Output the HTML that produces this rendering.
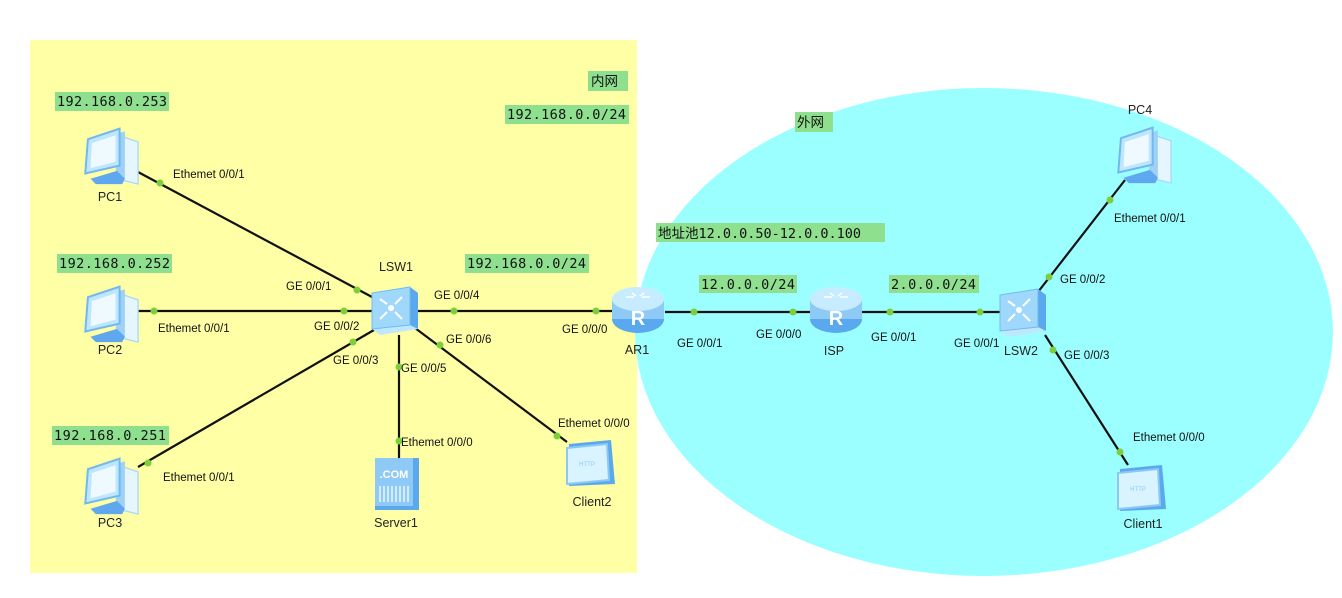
<!DOCTYPE html>
<html><head><meta charset="utf-8"><style>
html,body{margin:0;padding:0;background:#fff;width:1342px;height:598px;overflow:hidden}
.p{font-family:"Liberation Sans",sans-serif;font-size:11.5px;fill:#111}
.n{font-family:"Liberation Sans",sans-serif;font-size:12.5px;fill:#222}
</style></head><body>
<svg width="1342" height="598" xmlns="http://www.w3.org/2000/svg">
<defs>
<g id="pc">
 <path d="M26 6 L44 12 L44 44 L28 40 Z" fill="#e6f6ff" stroke="#a9d8f8"/>
 <path d="M28 6 L34 4 L34 40 L28 42 Z" fill="#9fd0f6"/>
 <path d="M6 10 L30 2 L30 30 L4 36 Z" fill="#bfe6ff" stroke="#6fb8f0" stroke-width="1.5"/>
 <path d="M9 13 L27 7 L27 27 L8 32 Z" fill="#eefaff"/>
 <path d="M8 40 L28 34 L34 40 L32 44 L12 44 Z" fill="#5fa8ef"/>
</g>
<g id="sw">
 <path d="M0 8 L38 2 L46 8 L46 44 L8 50 L0 44 Z" fill="#bfe8ff"/>
 <path d="M38 2 L46 8 L46 44 L38 40 Z" fill="#5aa8ee"/>
 <path d="M0 8 L38 2 L38 40 L0 44 Z" fill="#9fd8fb" stroke="#6fbcf3"/>
 <circle cx="19" cy="23" r="3" fill="#fff"/>
 <path d="M8 14 L15 19 M30 12 L23 19 M8 34 L15 27 M30 34 L23 27" stroke="#fff" stroke-width="2"/>
</g>
<g id="rt">
 <ellipse cx="26" cy="34" rx="26" ry="14" fill="#5aa8ee"/>
 <rect x="0" y="14" width="52" height="20" fill="#8fcaf6"/>
 <ellipse cx="26" cy="14" rx="26" ry="12" fill="#c8ecff"/>
 <text x="26" y="40" text-anchor="middle" font-size="20" font-weight="bold" fill="#fff" font-family="Liberation Sans">R</text>
 <path d="M14 12 h8 M30 12 h8 M20 8 l4 3 M32 8 l-4 3" stroke="#fff" stroke-width="1.5"/>
</g>
<g id="cl">
 <path d="M4 4 L46 0 L50 44 L4 46 Z" fill="#5aa8ee"/>
 <path d="M2 8 L42 4 L44 40 L2 44 Z" fill="#d9f3ff" stroke="#8cc8f5" stroke-width="2"/>
 <text x="22" y="26" text-anchor="middle" font-size="6" fill="#8cc8f5" font-family="Liberation Sans">HTTP</text>
</g>
</defs>
<rect x="30" y="40" width="607" height="533" fill="#ffffa6"/>
<ellipse cx="984" cy="332" rx="349" ry="244" fill="#9cffff"/>
<g stroke="#111" stroke-width="2.2" fill="none">
 <line x1="138" y1="172" x2="372" y2="297"/>
 <line x1="138" y1="311" x2="374" y2="311"/>
 <line x1="138" y1="467" x2="374" y2="330"/>
 <line x1="418" y1="311" x2="614" y2="311"/>
 <line x1="399" y1="335" x2="399" y2="460"/>
 <line x1="415" y1="328" x2="567" y2="442"/>
 <line x1="665" y1="312" x2="810" y2="312"/>
 <line x1="862" y1="312" x2="1002" y2="312"/>
 <line x1="1038" y1="292" x2="1125" y2="180"/>
 <line x1="1045" y1="335" x2="1128" y2="465"/>
</g>
<g fill="#7ccf3a">
 <circle cx="160" cy="183" r="3.5"/><circle cx="357" cy="290" r="3.5"/>
 <circle cx="154" cy="311" r="3.5"/><circle cx="344" cy="311" r="3.5"/>
 <circle cx="148" cy="463" r="3.5"/><circle cx="353" cy="342" r="3.5"/>
 <circle cx="454" cy="311" r="3.5"/><circle cx="596" cy="311" r="3.5"/>
 <circle cx="399" cy="367" r="3.5"/><circle cx="399" cy="441" r="3.5"/>
 <circle cx="440" cy="345" r="3.5"/><circle cx="557" cy="436" r="3.5"/>
 <circle cx="694" cy="312" r="3.5"/><circle cx="793" cy="312" r="3.5"/>
 <circle cx="890" cy="312" r="3.5"/><circle cx="980" cy="312" r="3.5"/>
 <circle cx="1049" cy="277" r="3.5"/><circle cx="1110" cy="200" r="3.5"/>
 <circle cx="1053" cy="350" r="3.5"/><circle cx="1120" cy="452" r="3.5"/>
</g>
<use href="#pc" transform="translate(80,126) scale(1.32)"/>
<use href="#pc" transform="translate(80,284) scale(1.32)"/>
<use href="#pc" transform="translate(80,456) scale(1.32)"/>
<use href="#pc" transform="translate(1113,125) scale(1.32)"/>
<use href="#sw" x="372" y="285"/>
<use href="#sw" x="1000" y="287"/>
<use href="#rt" x="612" y="285"/>
<use href="#rt" x="810" y="285"/>
<use href="#cl" x="565" y="440"/>
<use href="#cl" x="1116" y="465"/>
<g>
 <rect x="375" y="458" width="44" height="52" fill="#5aa8ee"/>
 <rect x="375" y="458" width="38" height="48" fill="#8fcaf6"/>
 <text x="394" y="478" text-anchor="middle" font-size="11" font-weight="bold" fill="#fff" font-family="Liberation Sans">.COM</text>
 <path d="M380 486 v16 M384 486 v16 M388 486 v16 M392 486 v16 M396 486 v16 M400 486 v16 M404 486 v16 M408 486 v16" stroke="#e8f7ff" stroke-width="1.5"/>
</g>
<g class="n" text-anchor="middle">
 <text x="110" y="201">PC1</text>
 <text x="110" y="354">PC2</text>
 <text x="110" y="527">PC3</text>
 <text x="1140" y="114">PC4</text>
 <text x="396" y="271">LSW1</text>
 <text x="396" y="527">Server1</text>
 <text x="592" y="506">Client2</text>
 <text x="637" y="354">AR1</text>
 <text x="834" y="355">ISP</text>
 <text x="1021" y="355">LSW2</text>
 <text x="1143" y="528">Client1</text>
</g>
<g class="p">
 <text x="173" y="178">Ethemet 0/0/1</text>
 <text x="158" y="332">Ethemet 0/0/1</text>
 <text x="163" y="481">Ethemet 0/0/1</text>
 <text x="286" y="290">GE 0/0/1</text>
 <text x="314" y="330">GE 0/0/2</text>
 <text x="333" y="364">GE 0/0/3</text>
 <text x="434" y="299">GE 0/0/4</text>
 <text x="401" y="372">GE 0/0/5</text>
 <text x="446" y="343">GE 0/0/6</text>
 <text x="401" y="446">Ethemet 0/0/0</text>
 <text x="558" y="427">Ethemet 0/0/0</text>
 <text x="562" y="333">GE 0/0/0</text>
 <text x="677" y="347">GE 0/0/1</text>
 <text x="756" y="338">GE 0/0/0</text>
 <text x="871" y="341">GE 0/0/1</text>
 <text x="954" y="347">GE 0/0/1</text>
 <text x="1060" y="283">GE 0/0/2</text>
 <text x="1064" y="359">GE 0/0/3</text>
 <text x="1114" y="222">Ethemet 0/0/1</text>
 <text x="1133" y="441">Ethemet 0/0/0</text>
</g>
<g fill="#8ee08e">
 <rect x="55" y="92" width="114" height="19"/>
 <rect x="57" y="254" width="115" height="19"/>
 <rect x="52" y="426" width="117" height="19"/>
 <rect x="588" y="71" width="40" height="20"/>
 <rect x="505" y="105" width="124" height="19"/>
 <rect x="465" y="254" width="124" height="19"/>
 <rect x="795" y="112" width="38" height="20"/>
 <rect x="656" y="223" width="229" height="19"/>
 <rect x="699" y="275" width="98" height="18"/>
 <rect x="889" y="275" width="90" height="18"/>
</g>
<g font-family="DejaVu Sans Mono, Liberation Mono, Noto Sans CJK SC, monospace" font-size="13.5" fill="#111">
 <text x="57" y="106" textLength="110">192.168.0.253</text>
 <text x="59" y="268" textLength="111">192.168.0.252</text>
 <text x="54" y="440" textLength="112">192.168.0.251</text>
 <text x="591" y="86" font-family="Noto Sans CJK SC, sans-serif">内网</text>
 <text x="507" y="119" textLength="119">192.168.0.0/24</text>
 <text x="467" y="268" textLength="119">192.168.0.0/24</text>
 <text x="797" y="127" font-family="Noto Sans CJK SC, sans-serif">外网</text>
 <text x="658" y="238"><tspan font-family="Noto Sans CJK SC, sans-serif">地址池</tspan>12.0.0.50-12.0.0.100</text>
 <text x="701" y="289" textLength="94">12.0.0.0/24</text>
 <text x="891" y="289" textLength="85">2.0.0.0/24</text>
</g>
</svg>
</body></html>
